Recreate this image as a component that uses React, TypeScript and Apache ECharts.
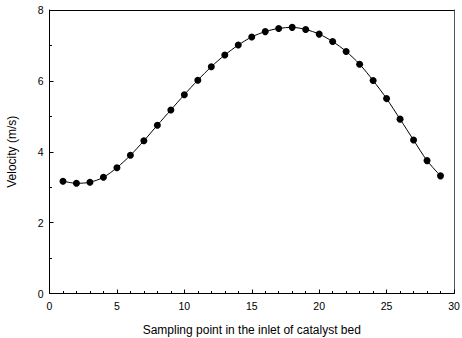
import React, { useEffect, useRef } from "react";
import * as echarts from "echarts";

const samplingPoints = [1, 2, 3, 4, 5, 6, 7, 8, 9, 10, 11, 12, 13, 14, 15, 16, 17, 18, 19, 20, 21, 22, 23, 24, 25, 26, 27, 28, 29];
const velocity = [3.17, 3.11, 3.14, 3.28, 3.55, 3.90, 4.31, 4.75, 5.18, 5.61, 6.02, 6.40, 6.73, 7.01, 7.24, 7.39, 7.48, 7.51, 7.45, 7.32, 7.11, 6.83, 6.47, 6.01, 5.50, 4.92, 4.33, 3.75, 3.32];
const xTitle = "Sampling point in the inlet of catalyst bed";
const yTitle = "Velocity (m/s)";

const FONT = "Liberation Sans, Arial, sans-serif";

export default function App() {
  const ref = useRef<HTMLDivElement>(null);
  useEffect(() => {
    if (!ref.current) return;
    const chart = echarts.init(ref.current, null, { renderer: "svg" });
    chart.setOption({
      animation: false,
      backgroundColor: "#fff",
      grid: { left: 49.5, right: 8, top: 10, bottom: 44.5, outerBoundsMode: "none", containLabel: false },
      xAxis: [
        {
          type: "value",
          min: 0,
          max: 30,
          interval: 5,
          name: xTitle,
          nameLocation: "middle",
          nameGap: 30,
          nameMoveOverlap: false,
          nameTextStyle: { fontFamily: FONT, fontSize: 12, color: "#000" },
          axisLine: { show: true, onZero: false, lineStyle: { color: "#000", width: 1 } },
          axisTick: { show: true, inside: true, length: 4, lineStyle: { color: "#000" } },
          minorTick: { show: true, splitNumber: 5, length: 2.5, lineStyle: { color: "#000" } },
          axisLabel: { fontFamily: FONT, fontSize: 10.5, color: "#000", margin: 7, showMaxLabel: true, hideOverlap: false },
          splitLine: { show: false },
        },
        {
          type: "value",
          position: "top",
          min: 0,
          max: 30,
          axisLine: { show: true, onZero: false, lineStyle: { color: "#000", width: 1 } },
          axisTick: { show: false },
          axisLabel: { show: false },
          splitLine: { show: false },
        },
      ],
      yAxis: [
        {
          type: "value",
          min: 0,
          max: 8,
          interval: 2,
          name: yTitle,
          nameLocation: "middle",
          nameGap: 32,
          nameMoveOverlap: false,
          nameTextStyle: { fontFamily: FONT, fontSize: 12, color: "#000" },
          axisLine: { show: true, onZero: false, lineStyle: { color: "#000", width: 1 } },
          axisTick: { show: true, inside: true, length: 4, lineStyle: { color: "#000" } },
          minorTick: { show: true, splitNumber: 2, length: 2.5, lineStyle: { color: "#000" } },
          axisLabel: { fontFamily: FONT, fontSize: 10.5, color: "#000", margin: 6 },
          splitLine: { show: false },
        },
        {
          type: "value",
          position: "right",
          min: 0,
          max: 8,
          axisLine: { show: true, onZero: false, lineStyle: { color: "#555", width: 1 } },
          axisTick: { show: false },
          axisLabel: { show: false },
          splitLine: { show: false },
        },
      ],
      series: [
        {
          type: "line",
          data: samplingPoints.map((x, i) => [x, velocity[i]]),
          smooth: 0.3,
          symbol: "circle",
          symbolSize: 7,
          itemStyle: { color: "#000" },
          lineStyle: { color: "#000", width: 1 },
        },
      ],
    });
    return () => chart.dispose();
  }, []);
  return <div ref={ref} style={{ position: "absolute", left: 0, top: 0, width: 462, height: 338 }} />;
}
